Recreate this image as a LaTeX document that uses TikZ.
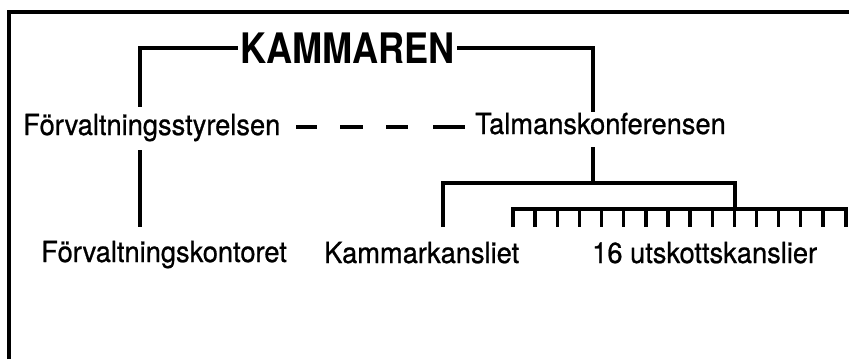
\documentclass[tikz,border=0pt]{standalone}
\usepackage{fontspec}
\setmainfont{TeX Gyre Heros}
\newfontface\lblface{TeX Gyre Heros}[FakeBold=0.8]
\usepackage{graphicx}
\begin{document}
\begin{tikzpicture}[x=1pt,y=-1pt,
  ln/.style={line width=3.4pt},
  lbl/.style={font=\lblface\fontsize{29}{34}\selectfont, inner sep=0pt, anchor=base west},
  ttl/.style={font=\bfseries\fontsize{42}{48}\selectfont, inner sep=0pt}]
\useasboundingbox (0,0) rectangle (849,359);
\fill[white] (0,0) rectangle (849,359);
% frame
\draw[ln, line join=miter] (9,359) -- (9,12) -- (849,12);
% nodes
\node[ttl] (kam) at (347.5,48) {\scalebox{0.86}[1]{KAMMAREN}};
\node[lbl] (fs) at (23,135) {\scalebox{0.94}[1]{Förvaltningsstyrelsen}};
\node[lbl] (tk) at (475,134) {\scalebox{0.94}[1]{Talmanskonferensen}};
\node[lbl] (fk) at (41,262) {\scalebox{0.94}[1]{Förvaltningskontoret}};
\node[lbl] (kk) at (324,263) {\scalebox{0.94}[1]{Kammarkansliet}};
\node[lbl] (uk) at (592,263) {\scalebox{0.94}[1]{16 utskottskanslier}};
% coordinates
\coordinate (fsTop) at (140,107);
\coordinate (fsBot) at (140,150);
\coordinate (fkTop) at (140,227);
\coordinate (tkTop) at (593,112);
\coordinate (tkBot) at (593,147);
\coordinate (split) at (593,183);
\coordinate (kkTop) at (443,227);
\coordinate (join) at (735,209);
\coordinate (dashA) at (296,127);
\coordinate (dashB) at (465,127);
% connectors
\draw[ln, line join=miter] ([xshift=-2pt]kam.west) -| (fsTop);
\draw[ln, line join=miter] ([xshift=2pt]kam.east) -| (tkTop);
\draw[ln] (fsBot) -- (fkTop);
\draw[ln, dash pattern=on 21pt off 23pt on 23pt off 23pt on 22pt off 25pt on 32pt] (dashA) -- (dashB);
\draw[ln] (tkBot) -- (split);
\draw[ln, line join=miter] (kkTop) |- (split) -| (join);
% comb of 16 teeth
\draw[ln, line join=miter] (513,227) -- (513,209) -- (846,209) -- (846,227);
\foreach \i in {1,...,14} {
  \coordinate (t\i) at ({513+\i*22.133},209);
  \draw[ln] (t\i) -- ++(0,18);
}
\end{tikzpicture}
\end{document}
